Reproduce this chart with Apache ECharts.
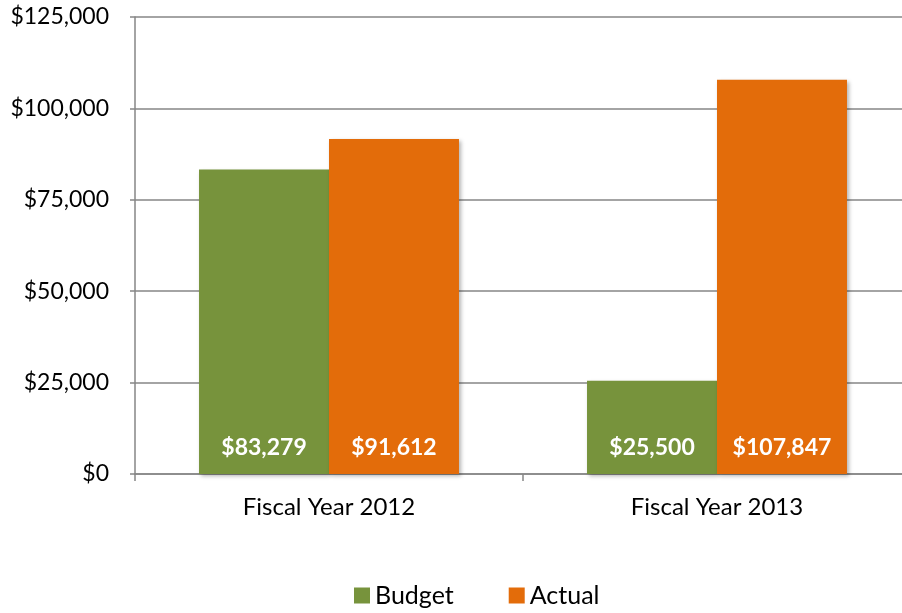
<!DOCTYPE html>
<html>
<head>
<meta charset="utf-8">
<script src="https://cdn.jsdelivr.net/npm/echarts@6/dist/echarts.min.js"></script>
<style>html,body{margin:0;padding:0;background:#fff;overflow:hidden;}#c{width:920px;height:613px;}</style>
</head>
<body>
<div id="c"></div>
<script>
const categories = ['Fiscal Year 2012', 'Fiscal Year 2013'];
const budget = [83279, 25500];
const actual = [91612, 107847];
const seriesNames = ['Budget', 'Actual'];

const FONT = 'Lato';
function money(v){ return '$' + Number(v).toLocaleString('en-US'); }

const chart = echarts.init(document.getElementById('c'));
const labelCfg = {
  show: true, position: 'insideBottom', distance: 15,
  color: '#fff', fontWeight: 'bold', fontSize: 23, fontFamily: FONT,
  formatter: p => money(p.value)
};
const shadow = { shadowBlur: 4, shadowColor: 'rgba(0,0,0,0.3)', shadowOffsetX: 2, shadowOffsetY: 2 };
chart.setOption({
  animation: false,
  grid: { left: 135, right: 9, top: 17, bottom: 139, containLabel: false },
  legend: {
    bottom: 0, left: 349, itemWidth: 16, itemHeight: 16, itemGap: 55,
    icon: 'rect',
    textStyle: { fontSize: 25, fontFamily: FONT, color: '#000' },
    data: seriesNames
  },
  xAxis: {
    type: 'category', data: categories,
    axisLine: { lineStyle: { color: '#868686', width: 1.5 } },
    axisTick: { show: true, length: 7, lineStyle: { color: '#868686', width: 1.5 } },
    axisLabel: { fontSize: 24, fontFamily: FONT, color: '#000', margin: 21 }
  },
  yAxis: {
    type: 'value', min: 0, max: 125000, interval: 25000,
    axisLine: { show: true, lineStyle: { color: '#868686', width: 1.5 } },
    axisTick: { show: true, length: 5, lineStyle: { color: '#868686', width: 1.5 } },
    splitLine: { lineStyle: { color: '#868686', width: 1.5 } },
    axisLabel: { fontSize: 23, fontFamily: FONT, color: '#000', margin: 26, formatter: v => money(v) }
  },
  series: [
    { name: seriesNames[0], type: 'bar', data: budget, barGap: '0%', barCategoryGap: '33%',
      itemStyle: Object.assign({ color: '#77933C' }, shadow), label: labelCfg },
    { name: seriesNames[1], type: 'bar', data: actual,
      itemStyle: Object.assign({ color: '#E36C0A' }, shadow), label: labelCfg }
  ]
});
</script>
</body>
</html>
